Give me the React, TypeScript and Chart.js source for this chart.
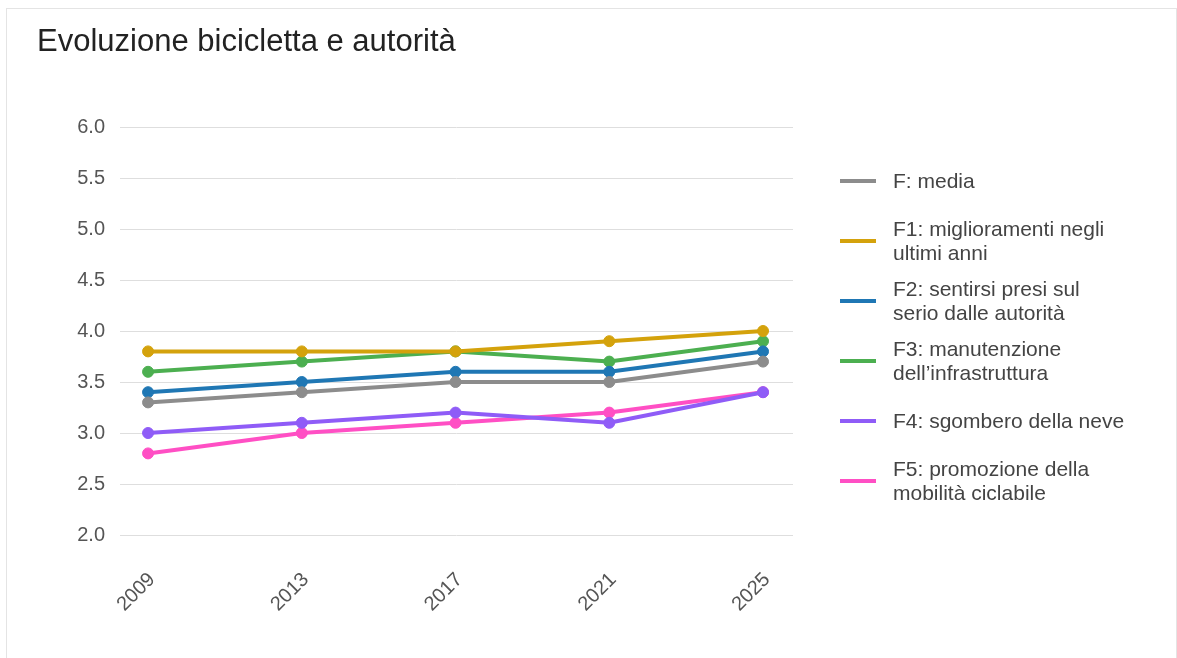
import React, { useEffect, useRef } from "react";
import { Chart, registerables } from "chart.js";

Chart.register(...registerables);

const TITLE = "Evoluzione bicicletta e autorità";
const years = [2009, 2013, 2017, 2021, 2025];
const yMin = 2.0;
const yMax = 6.0;
const yStep = 0.5;

const fMedia = [3.3, 3.4, 3.5, 3.5, 3.7];
const f1Miglioramenti = [3.8, 3.8, 3.8, 3.9, 4.0];
const f2Sentirsi = [3.4, 3.5, 3.6, 3.6, 3.8];
const f3Manutenzione = [3.6, 3.7, 3.8, 3.7, 3.9];
const f4Sgombero = [3.0, 3.1, 3.2, 3.1, 3.4];
const f5Promozione = [2.8, 3.0, 3.1, 3.2, 3.4];

const seriesLabels: string[][] = [
  ["F: media"],
  ["F1: miglioramenti negli", "ultimi anni"],
  ["F2: sentirsi presi sul", "serio dalle autorità"],
  ["F3: manutenzione", "dell’infrastruttura"],
  ["F4: sgombero della neve"],
  ["F5: promozione della", "mobilità ciclabile"],
];
const seriesValues = [fMedia, f1Miglioramenti, f2Sentirsi, f3Manutenzione, f4Sgombero, f5Promozione];
const seriesColors = ["#8c8c8c", "#d4a20c", "#1f77b4", "#4caf50", "#8f5cf7", "#ff4fc4"];

const FONT = "'Liberation Sans', Arial, Helvetica, sans-serif";

const W = 1177;
const H = 658;
const AREA_LEFT = 120;
const AREA_RIGHT = 793;
const AREA_TOP = 127;
const AREA_BOTTOM = 535;

const titleLegendPlugin = {
  id: "titleLegend",
  afterDraw(chart: any) {
    const ctx = chart.ctx as CanvasRenderingContext2D;
    ctx.save();
    ctx.fillStyle = "#222";
    ctx.font = `31px ${FONT}`;
    ctx.textBaseline = "alphabetic";
    ctx.textAlign = "left";
    ctx.fillText(TITLE, 37, 51);

    ctx.font = `21px ${FONT}`;
    ctx.textBaseline = "middle";
    chart.data.datasets.forEach((ds: any, i: number) => {
      const cy = 181 + i * 60;
      ctx.strokeStyle = ds.borderColor;
      ctx.lineWidth = 4;
      ctx.lineCap = "butt";
      ctx.beginPath();
      ctx.moveTo(840, cy);
      ctx.lineTo(876, cy);
      ctx.stroke();
      const lines: string[] = seriesLabels[i];
      const lh = 24;
      const startY = cy - ((lines.length - 1) * lh) / 2 + 1;
      ctx.fillStyle = "#444";
      lines.forEach((t, k) => ctx.fillText(t, 893, startY + k * lh));
    });
    ctx.restore();
  },
};

export default function App() {
  const ref = useRef<HTMLCanvasElement | null>(null);

  useEffect(() => {
    if (!ref.current) return;
    const datasets = seriesValues.map((vals, i) => ({
      label: seriesLabels[i].join(" "),
      data: vals.map((v, k) => ({ x: years[k], y: v })),
      borderColor: seriesColors[i],
      backgroundColor: seriesColors[i],
      pointBackgroundColor: seriesColors[i],
      pointBorderColor: seriesColors[i],
      borderWidth: 4,
      pointRadius: 5.5,
      pointBorderWidth: 1,
      tension: 0,
      fill: false,
    }));

    const chart = new Chart(ref.current, {
      type: "line",
      data: { datasets },
      plugins: [titleLegendPlugin],
      options: {
        animation: false,
        responsive: false,
        maintainAspectRatio: false,
        layout: {
          padding: { left: 0, right: W - AREA_RIGHT, top: AREA_TOP, bottom: 0 },
        },
        plugins: {
          legend: { display: false },
          title: { display: false },
          tooltip: { enabled: false },
        },
        scales: {
          x: {
            type: "linear",
            min: 2008.27,
            max: 2025.78,
            grid: { display: false, drawTicks: false },
            border: { display: false },
            afterBuildTicks: (scale: any) => {
              scale.ticks = years.map((v) => ({ value: v }));
            },
            afterFit: (scale: any) => {
              scale.height = H - AREA_BOTTOM;
            },
            ticks: {
              autoSkip: false,
              minRotation: 45,
              maxRotation: 45,
              padding: 33,
              labelOffset: 4,
              color: "#555",
              font: { family: FONT, size: 20 },
              callback: (v: any) => String(v),
            },
          },
          y: {
            type: "linear",
            min: yMin,
            max: yMax,
            grid: { color: "#dedede", lineWidth: 1, drawTicks: false },
            border: { display: false },
            afterFit: (scale: any) => {
              scale.width = AREA_LEFT;
            },
            ticks: {
              stepSize: yStep,
              padding: 15,
              color: "#555",
              font: { family: FONT, size: 20 },
              callback: (v: any) => Number(v).toFixed(1),
            },
          },
        },
      },
    });
    return () => chart.destroy();
  }, []);

  return (
    <div style={{ position: "fixed", left: 0, top: 0, width: W, height: H, overflow: "hidden", background: "#fff" }}>
      <div
        style={{
          position: "absolute",
          left: 6,
          top: 8,
          width: 1169,
          height: 700,
          border: "1px solid #e4e4e4",
          boxSizing: "content-box",
        }}
      />
      <canvas ref={ref} width={W} height={H} style={{ position: "absolute", left: 0, top: 0, width: W, height: H }} />
    </div>
  );
}
